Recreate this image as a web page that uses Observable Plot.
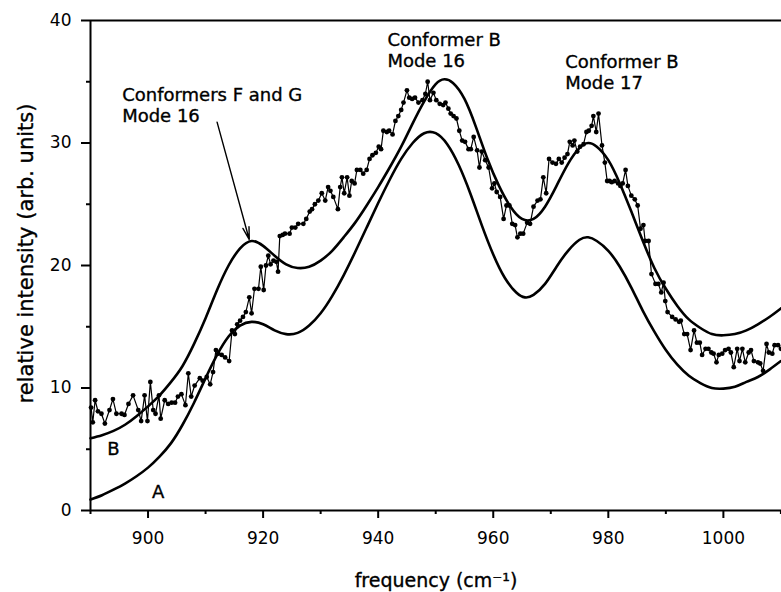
<!DOCTYPE html>
<html><head><meta charset="utf-8">
<script src="https://cdn.jsdelivr.net/npm/d3@7"></script>
<script src="https://cdn.jsdelivr.net/npm/@observablehq/plot@0.6"></script>
<style>body{margin:0;background:#fff} svg{display:block}</style>
</head><body><div id="chart"></div>
<script>
// Measured spectrum (points)
const dataFreq = [890.1,890.4,890.8,891.3,891.9,892.5,893.3,893.9,894.5,895.4,895.9,896.6,897.4,898.3,898.8,899.4,899.9,900.4,900.9,901.3,901.9,902.2,902.9,903.5,904.1,904.7,905.2,905.8,906.5,907.0,907.5,908.1,909.0,909.5,910.2,910.8,911.3,911.8,912.2,912.8,913.4,914.1,914.6,915.1,915.5,916.0,916.5,917.0,917.6,918.0,918.5,919.2,919.6,920.1,920.5,920.9,921.3,921.8,922.3,922.6,922.9,923.4,923.8,924.6,925.0,925.6,926.1,927.0,927.5,928.1,928.5,929.0,929.6,930.2,930.8,931.3,931.7,932.2,933.0,933.4,933.7,934.1,934.6,935.0,935.4,935.9,936.3,936.9,937.4,938.0,938.5,939.0,939.6,940.1,940.5,940.9,941.5,941.9,942.5,943.0,943.5,944.0,944.4,945.0,945.4,945.9,946.4,947.0,947.7,948.2,948.6,949.0,949.6,950.1,950.7,951.3,951.7,952.2,952.6,953.1,953.6,954.1,954.6,955.1,955.7,956.1,956.6,957.2,957.6,958.0,958.6,959.2,959.8,960.2,960.6,961.2,961.8,962.3,962.8,963.3,963.8,964.2,964.7,965.2,965.9,966.4,967.0,967.7,968.2,968.7,969.2,969.7,970.3,970.9,971.4,971.9,972.4,972.9,973.3,973.8,974.1,974.6,975.1,975.7,976.2,976.6,977.1,977.4,977.9,978.3,978.9,979.4,979.8,980.2,980.6,981.1,981.7,982.1,982.5,983.0,983.4,984.0,984.6,985.1,985.6,986.1,986.4,987.0,987.5,988.2,988.7,989.2,989.6,989.9,990.3,991.1,991.7,992.3,992.6,993.2,993.7,994.3,994.9,995.4,995.9,996.3,996.9,997.4,997.9,998.3,998.8,999.2,999.8,1000.3,1000.9,1001.3,1001.8,1002.4,1002.8,1003.3,1003.8,1004.4,1004.8,1005.3,1006.0,1006.4,1006.9,1007.5,1007.9,1008.5,1008.9,1009.5,1010.0];
const dataIntensity = [8.4,7.2,9.0,8.1,7.9,7.1,8.2,9.1,7.9,7.9,7.8,8.7,9.4,8.2,7.3,9.4,7.3,10.5,8.2,7.9,9.4,7.5,9.0,8.7,8.8,8.8,9.3,9.5,8.6,11.2,9.3,10.2,10.8,10.6,10.9,10.3,11.3,13.1,12.8,12.7,12.5,12.2,14.7,14.4,15.2,15.5,15.8,16.2,17.4,16.1,18.1,18.1,19.9,18.0,20.0,20.8,20.1,20.4,20.3,19.5,22.4,22.5,22.6,22.6,23.1,23.1,23.4,23.4,23.8,24.4,24.6,25.0,25.3,25.9,25.3,26.4,26.1,25.6,24.6,26.4,27.2,25.9,27.2,25.7,26.9,26.7,27.8,27.8,27.5,27.8,28.7,29.0,29.2,29.7,29.5,31.0,30.9,31.0,30.7,31.8,32.2,32.7,33.3,34.3,33.7,33.6,33.7,33.3,33.5,34.0,35.0,33.5,34.1,33.5,33.2,33.1,33.3,32.8,32.4,32.2,32.0,31.0,30.2,30.1,29.5,29.5,30.5,29.4,28.0,29.3,28.6,28.0,26.3,26.7,26.0,25.6,23.8,24.9,24.9,23.4,23.3,22.3,22.6,22.6,23.5,23.4,24.8,25.3,25.4,27.2,25.9,28.7,28.4,28.3,28.7,28.4,28.8,29.1,30.1,29.8,30.2,29.3,29.7,29.9,30.9,31.0,31.4,32.2,30.9,32.4,29.8,28.4,26.9,26.9,26.8,26.9,26.7,26.5,26.7,27.8,26.5,25.7,25.4,24.9,23.0,23.3,22.0,22.0,19.3,18.5,18.5,17.8,18.6,17.1,16.2,15.8,15.6,15.4,15.5,14.4,14.4,13.1,14.7,13.7,13.7,12.7,13.2,13.2,12.9,12.8,12.1,12.7,12.8,13.1,13.2,12.9,11.7,13.2,12.2,13.2,12.1,12.9,13.1,12.2,12.1,12.0,11.4,13.6,12.9,12.8,13.5,13.5,13.2];

// Simulated spectrum A
const fitAFreq = [890,892,894,896,898,900,902,904,906,908,910,912,914,916,918,920,922,924,926,928,930,932,934,936,938,940,942,944,946,948,950,952,954,956,958,960,962,964,965.5,967,969,971,973,975,976.5,978,980,982,984,986,988,990,992,994,996,998,1000,1002,1004,1006,1008,1010];
const fitA = [0.9,1.25,1.7,2.2,2.8,3.5,4.4,5.5,7.0,8.8,10.8,12.7,14.2,15.1,15.4,15.2,14.7,14.4,14.5,15.1,16.1,17.5,19.2,21.1,23.1,25.1,27.0,28.7,30.0,30.8,30.8,29.9,28.2,25.9,23.3,20.9,19.0,17.8,17.4,17.6,18.5,19.9,21.2,22.1,22.3,22.0,21.2,19.9,18.2,16.3,14.6,13.1,11.9,11.0,10.4,10.0,9.95,10.1,10.5,10.9,11.5,12.2];

// Simulated spectrum B
const fitBFreq = [890,892,894,896,898,900,902,904,906,908,910,912,914,916,918,920,922,924,926,928,930,932,934,936,938,940,942,944,946,948,950,951.5,953,955,957,959,961,963,965,967,969,971,973,975,976.5,978,980,982,984,986,988,990,992,994,996,998,1000,1002,1004,1006,1008,1010];
const fitB = [5.9,6.15,6.5,7.0,7.7,8.5,9.4,10.5,11.8,13.6,15.7,18.0,20.0,21.4,22.0,21.6,20.8,20.1,19.8,19.9,20.4,21.2,22.3,23.5,24.9,26.4,28.0,29.7,31.6,33.4,34.8,35.2,34.9,33.6,31.3,28.7,26.5,24.8,23.8,23.8,24.8,26.5,28.3,29.6,30.0,29.7,28.6,26.7,24.4,22.0,19.8,18.1,16.7,15.6,14.9,14.4,14.3,14.4,14.7,15.2,15.8,16.5];

const xTicksMajor = [900,920,940,960,980,1000];
const xTicksMinor = [890,910,930,950,970,990,1010];
const yTicksMajor = [0,10,20,30,40];
const yTicksMinor = [5,15,25,35];
const xLabel = "frequency (cm\u207B\u00B9)";
const yLabel = "relative intensity (arb. units)";

const annotations = [
  {x: 895.5, y: 31.7, text: "Conformers F and G\nMode 16"},
  {x: 941.6, y: 36.2, text: "Conformer B\nMode 16"},
  {x: 972.5, y: 34.4, text: "Conformer B\nMode 17"}
];
const curveLabels = [
  {x: 892.9, y: 4.5, text: "B"},
  {x: 900.7, y: 1.06, text: "A"}
];
const arrowSpec = [{x1: 912.0, y1: 31.7, x2: 917.6, y2: 22.1}];

const measured = dataFreq.map((x, i) => ({x, y: dataIntensity[i]}));
const simA = fitAFreq.map((x, i) => ({x, y: fitA[i]}));
const simB = fitBFreq.map((x, i) => ({x, y: fitB[i]}));

const ink = {fill: "#000", stroke: "#000", strokeWidth: 0.35};

const chart = Plot.plot({
  width: 781, height: 592,
  marginLeft: 90, marginRight: 0, marginTop: 20, marginBottom: 82,
  x: {domain: [890, 1010.1]},
  y: {domain: [0, 40]},
  style: {fontFamily: "'DejaVu Sans', sans-serif", fontSize: "17px", color: "#000", background: "#fff", overflow: "visible"},
  marks: [
    Plot.axisX({ticks: xTicksMajor, tickSize: 8, tickPadding: 13, strokeWidth: 2, label: null, fontSize: 17, tickFormat: d => String(d)}),
    Plot.axisX({ticks: xTicksMinor, tickSize: 4, text: null, label: null, strokeWidth: 2}),
    Plot.axisY({ticks: yTicksMajor, tickSize: 9, tickPadding: 10, strokeWidth: 2, label: null, fontSize: 17, tickFormat: d => String(d)}),
    Plot.axisY({ticks: yTicksMinor, tickSize: 4, text: null, label: null, strokeWidth: 2}),
    Plot.ruleY([0, 40], {strokeWidth: 2}),
    Plot.ruleX([890], {strokeWidth: 2}),
    Plot.line(simA, {x: "x", y: "y", curve: "natural", strokeWidth: 2.6}),
    Plot.line(simB, {x: "x", y: "y", curve: "natural", strokeWidth: 2.6}),
    Plot.line(measured, {x: "x", y: "y", strokeWidth: 1.2}),
    Plot.dot(measured, {x: "x", y: "y", r: 2.4, fill: "#000", stroke: null}),
    Plot.arrow(arrowSpec, {x1: "x1", y1: "y1", x2: "x2", y2: "y2", headAngle: 28, headLength: 14, strokeWidth: 1.4}),
    Plot.text(annotations, {x: "x", y: "y", text: "text", textAnchor: "start", lineAnchor: "bottom", lineHeight: 1.15, fontSize: 18, ...ink}),
    Plot.text(curveLabels, {x: "x", y: "y", text: "text", textAnchor: "start", lineAnchor: "bottom", fontSize: 18, ...ink}),
    Plot.text([xLabel], {frameAnchor: "bottom", textAnchor: "middle", lineAnchor: "bottom", dy: 76, fontSize: 19, ...ink}),
    Plot.text([yLabel], {frameAnchor: "left", textAnchor: "middle", lineAnchor: "middle", rotate: -90, dx: -64, dy: -12, fontSize: 21, ...ink})
  ]
});
document.getElementById("chart").append(chart);
</script>
</body></html>
